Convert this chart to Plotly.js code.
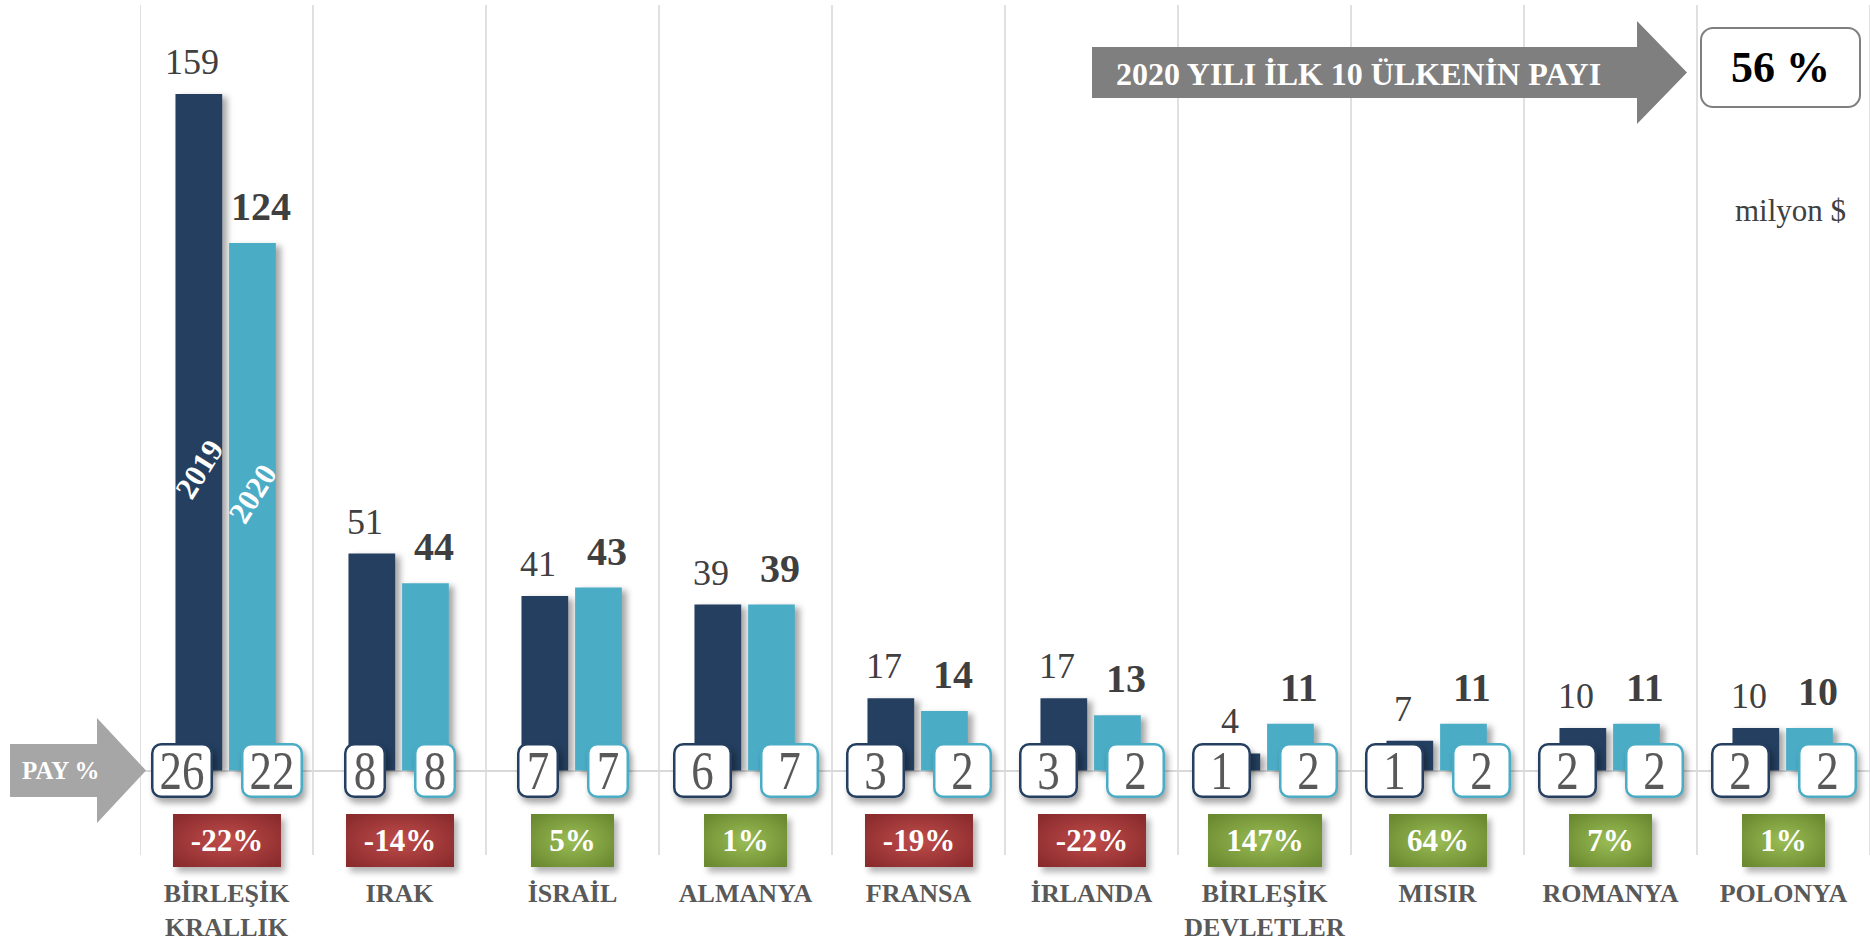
<!DOCTYPE html>
<html>
<head>
<meta charset="utf-8">
<script src="https://cdn.plot.ly/plotly-3.0.1.min.js"></script>
<style>
html, body { margin: 0; padding: 0; background: #ffffff; }
#chart { width: 1870px; height: 943px; }
.barlayer .point path { filter: drop-shadow(5px 3px 3px rgba(0,0,0,0.35)); }
</style>
<style id="annStyle"></style>
</head>
<body>
<svg width="0" height="0" style="position:absolute">
  <defs>
    <radialGradient id="gradRed" cx="50%" cy="50%" r="65%">
      <stop offset="0%" stop-color="#c04c4b"/>
      <stop offset="100%" stop-color="#8a2b2c"/>
    </radialGradient>
    <radialGradient id="gradGreen" cx="50%" cy="50%" r="65%">
      <stop offset="0%" stop-color="#9bbd55"/>
      <stop offset="100%" stop-color="#6a8930"/>
    </radialGradient>
  </defs>
</svg>
<div id="chart"></div>
<script>
// ---------------- DATA ----------------
const countries = ['BİRLEŞİK<br>KRALLIK', 'IRAK', 'İSRAİL', 'ALMANYA', 'FRANSA', 'İRLANDA', 'BİRLEŞİK<br>DEVLETLER', 'MISIR', 'ROMANYA', 'POLONYA'];
const seriesNames = ['2019', '2020'];
const exports2019 = [159, 51, 41, 39, 17, 17, 4, 7, 10, 10];
const exports2020 = [124, 44, 43, 39, 14, 13, 11, 11, 11, 10];
const share2019 = [26, 8, 7, 6, 3, 3, 1, 1, 2, 2];
const share2020 = [22, 8, 7, 7, 2, 2, 2, 2, 2, 2];
const changePct = [-22, -14, 5, 1, -19, -22, 147, 64, 7, 1];
const top10Share = 56;
const top10Label = '2020 YILI İLK 10 ÜLKENİN PAYI';
const shareLabel = 'PAY %';
const unitLabel = 'milyon $';

// ---------------- LAYOUT / STYLE ----------------
const W = 1870, H = 943;
const M = { l: 140, r: 0, t: 5, b: 88 };
const plotW = W - M.l - M.r, plotH = H - M.t - M.b;
const BASE_PX = 770.5;       // pixel row of the zero line
const PX_PER_UNIT = 4.254;   // pixels per million $
const yTop = (BASE_PX - M.t) / PX_PER_UNIT;
const yBottom = -(M.t + plotH - BASE_PX) / PX_PER_UNIT;
const pxX = px => (px - M.l) / plotW;
const pxY = py => (M.t + plotH - py) / plotH;

const FONT = '"Liberation Serif", "Times New Roman", serif';
const C2019 = '#243f60', C2020 = '#4bacc6';
const BAR_W = 0.27, OFF2019 = -0.295, OFF2020 = 0.015;
const shareBoxW = [62, 42, 42, 59, 59, 59, 59, 59, 59, 59];

const ctx = document.createElement('canvas').getContext('2d');
function textW(t, size, bold) {
  ctx.font = (bold ? 'bold ' : '') + size + 'px "Liberation Serif"';
  return ctx.measureText(t).width;
}

const idx = countries.map((_, i) => i);

const traces = [
  { type: 'bar', name: seriesNames[0], x: idx, y: exports2019, width: BAR_W, offset: OFF2019,
    marker: { color: C2019 }, hoverinfo: 'skip', showlegend: false },
  { type: 'bar', name: seriesNames[1], x: idx, y: exports2020, width: BAR_W, offset: OFF2020,
    marker: { color: C2020 }, hoverinfo: 'skip', showlegend: false }
];

const ann = [], roles = [];
function add(role, a) { roles.push(role); ann.push(Object.assign({ showarrow: false, xanchor: 'center', yanchor: 'middle' }, a)); }

// value labels
exports2019.forEach((v, i) => add('value', {
  x: i, y: v, xref: 'x', yref: 'y', yanchor: 'bottom', xshift: -35, yshift: 10,
  text: String(v), font: { family: FONT, size: 36, color: '#404040' }
}));
exports2020.forEach((v, i) => add('value', {
  x: i, y: v, xref: 'x', yref: 'y', yanchor: 'bottom', xshift: 34, yshift: 12,
  text: '<b>' + v + '</b>', font: { family: FONT, size: 40, color: '#3f3f3f' }
}));

// share boxes
share2019.forEach((v, i) => add('share', {
  x: i, y: 0, xref: 'x', yref: 'y', xanchor: 'right', xshift: -14,
  text: String(v), width: shareBoxW[i] - 5, height: 50, borderpad: 0, borderwidth: 2.5,
  bordercolor: C2019, bgcolor: '#ffffff', font: { family: FONT, size: 45, color: '#595959' }
}));
share2020.forEach((v, i) => add('share', {
  x: i, y: 0, xref: 'x', yref: 'y', xanchor: 'left', xshift: 14,
  text: String(v), width: shareBoxW[i] - 5, height: 50, borderpad: 0, borderwidth: 2.5,
  bordercolor: C2020, bgcolor: '#ffffff', font: { family: FONT, size: 45, color: '#595959' }
}));

// change boxes
changePct.forEach((v, i) => {
  const t = v + '%';
  add(v < 0 ? 'down' : 'up', {
    x: i, xref: 'x', y: pxY(840.5), yref: 'paper',
    text: '<b>' + t + '</b>', width: Math.round(textW(t, 31, true) + 36), height: 53,
    borderpad: 0, borderwidth: 0, bgcolor: v < 0 ? '#a23a3a' : '#7d9c3f',
    font: { family: FONT, size: 31, color: '#ffffff' }
  });
});

// series labels inside first bars
add('label', { x: OFF2019 + BAR_W / 2, xref: 'x', y: pxY(469), yref: 'paper', textangle: -58,
  text: '<b>' + seriesNames[0] + '</b>', font: { family: FONT, size: 31, color: '#ffffff' } });
add('label', { x: OFF2020 + BAR_W / 2, xref: 'x', y: pxY(493), yref: 'paper', textangle: -58,
  text: '<b>' + seriesNames[1] + '</b>', font: { family: FONT, size: 31, color: '#ffffff' } });

// top right callout
add('label', { x: pxX(1358), y: pxY(74), xref: 'paper', yref: 'paper',
  text: '<b>' + top10Label + '</b>', font: { family: FONT, size: 32, color: '#ffffff' } });
add('total', { x: pxX(1780.5), y: pxY(67.5), xref: 'paper', yref: 'paper',
  text: '<b>' + top10Share + ' %</b>', width: 157, height: 77, borderpad: 0, borderwidth: 2,
  bordercolor: '#7f7f7f', bgcolor: '#ffffff', font: { family: FONT, size: 44, color: '#000000' } });
add('label', { x: pxX(1790), y: pxY(210), xref: 'paper', yref: 'paper',
  text: unitLabel, font: { family: FONT, size: 31, color: '#404040' } });
add('label', { x: pxX(61), y: pxY(770), xref: 'paper', yref: 'paper',
  text: '<b>' + shareLabel + '</b>', font: { family: FONT, size: 25, color: '#ffffff' } });

// shapes
function pathFromPx(pts) {
  return pts.map((p, k) => (k ? 'L' : 'M') + pxX(p[0]).toFixed(5) + ',' + pxY(p[1]).toFixed(5)).join(' ') + ' Z';
}
const shapes = [];
for (let k = 0; k <= countries.length; k++) {
  shapes.push({ type: 'line', xref: 'x', yref: 'paper', x0: k - 0.5, x1: k - 0.5, y0: 0, y1: 1,
    line: { color: '#d6d6d6', width: 1.5 }, layer: 'below' });
}
shapes.push({ type: 'path', xref: 'paper', yref: 'paper', layer: 'below', line: { width: 0 }, fillcolor: '#7f7f7f',
  path: pathFromPx([[1092, 47], [1637, 47], [1637, 21], [1687, 72.5], [1637, 124], [1637, 98], [1092, 98]]) });
shapes.push({ type: 'path', xref: 'paper', yref: 'paper', layer: 'above', line: { width: 0 }, fillcolor: '#a6a6a6',
  path: pathFromPx([[10, 744], [97, 744], [97, 718], [146, 770.5], [97, 823], [97, 797], [10, 797]]) });

const layout = {
  width: W, height: H,
  margin: M,
  paper_bgcolor: '#ffffff', plot_bgcolor: '#ffffff',
  barmode: 'overlay',
  showlegend: false,
  font: { family: FONT },
  xaxis: {
    range: [-0.5, countries.length - 0.5], tickvals: idx, ticktext: countries,
    showgrid: false, zeroline: false, showline: false, ticks: '', ticklabelstandoff: 20,
    tickfont: { family: FONT, size: 26, color: '#595959', weight: 'bold' }, fixedrange: true
  },
  yaxis: {
    range: [yBottom, yTop], showgrid: false, showticklabels: false, ticks: '',
    zeroline: true, zerolinecolor: '#d9d9d9', zerolinewidth: 2, fixedrange: true
  },
  shapes: shapes,
  annotations: ann
};

let css = '';
roles.forEach((r, k) => {
  const g = '.annotation[data-index="' + k + '"] ';
  const sel = g + 'rect.bg';
  if (r === 'share') {
    css += sel + '{rx:9px;ry:9px;filter:drop-shadow(3px 5px 3px rgba(0,0,0,0.35));}';
    css += g + 'text.annotation-text{transform-box:fill-box;transform-origin:50% 50%;transform:scaleY(1.22);}';
  }
  if (r === 'total') css += sel + '{rx:12px;ry:12px;}';
  if (r === 'down') css += sel + '{fill:url(#gradRed) !important;filter:drop-shadow(4px 5px 3px rgba(0,0,0,0.3));}';
  if (r === 'up') css += sel + '{fill:url(#gradGreen) !important;filter:drop-shadow(4px 5px 3px rgba(0,0,0,0.3));}';
});
document.getElementById('annStyle').textContent = css;

Plotly.newPlot('chart', traces, layout, { displayModeBar: false, staticPlot: true });
</script>
</body>
</html>
